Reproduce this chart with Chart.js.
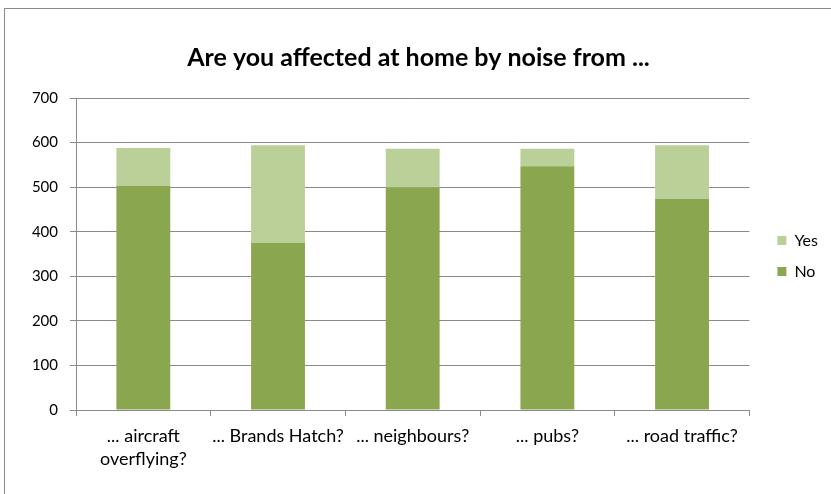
<!DOCTYPE html>
<html>
<head>
<meta charset="utf-8">
<script src="https://cdn.jsdelivr.net/npm/chart.js@4.4.0/dist/chart.umd.min.js"></script>
<style>
  html, body { margin: 0; padding: 0; background: #fff; }
  #frame {
    position: absolute; left: 4px; top: 8px; width: 840px; height: 500px;
    border: 1px solid #8a8a8a; box-sizing: border-box;
  }
  #wrap { position: absolute; left: 0; top: 0; width: 831px; height: 494px; }
</style>
</head>
<body>
<div id="frame"></div>
<div id="wrap"><canvas id="myChart"></canvas></div>
<script>
const categories = [['... aircraft', 'overflying?'], '... Brands Hatch?', '... neighbours?', '... pubs?', '... road traffic?'];
const noValues = [503, 375, 499, 547, 474];
const yesValues = [85, 219, 87, 39, 120];
const yTicks = [0, 100, 200, 300, 400, 500, 600, 700];

const font = 'Lato, "Open Sans", sans-serif';
Chart.defaults.font.family = font;
Chart.defaults.color = '#000';

// nudge the legend and title blocks into place once layout is done
const boxShift = {
  id: 'boxShift',
  afterLayout(chart) {
    const lg = chart.legend;
    if (lg) {
      lg.left += 13; lg.right += 13;
      lg.top += 9; lg.bottom += 9;
    }
    const t = chart.titleBlock;
    if (t) { t.left += 11; t.right += 11; }
  },
};

var ctx = document.getElementById('myChart').getContext('2d');

new Chart(ctx, {
  type: 'bar',
  data: {
    labels: categories,
    datasets: [
      {
        label: 'No',
        data: noValues,
        backgroundColor: '#8aa64f',
        categoryPercentage: 1,
        barPercentage: 0.4,
      },
      {
        label: 'Yes',
        data: yesValues,
        backgroundColor: '#bbcf98',
        categoryPercentage: 1,
        barPercentage: 0.4,
      },
    ],
  },
  options: {
    responsive: true,
    maintainAspectRatio: false,
    animation: false,
    layout: { padding: { left: 0, right: 16, top: 0, bottom: 0 } },
    plugins: {
      title: {
        display: true,
        text: 'Are you affected at home by noise from ...',
        font: { size: 25, weight: 'bold' },
        color: '#000',
        padding: { top: 43, bottom: 25 },
      },
      legend: {
        position: 'right',
        reverse: true,
        labels: {
          boxWidth: 9,
          boxHeight: 9,
          padding: 15,
          font: { size: 16 },
          color: '#000',
        },
      },
      tooltip: { enabled: false },
    },
    scales: {
      x: {
        stacked: true,
        grid: {
          drawOnChartArea: false,
          drawTicks: true,
          tickLength: 6,
          color: '#8a8a8a',
        },
        border: { color: '#8a8a8a' },
        ticks: { font: { size: 18, lineHeight: 1.28 }, padding: 9, maxRotation: 0, autoSkip: false },
        afterFit: (scale) => { scale.height = 84; },
      },
      y: {
        stacked: true,
        min: 0,
        max: 700,
        afterBuildTicks: (scale) => { scale.ticks = yTicks.map((v) => ({ value: v })); },
        grid: { color: '#8a8a8a', tickLength: 6 },
        border: { color: '#8a8a8a' },
        ticks: { font: { size: 15 }, padding: 12 },
        afterFit: (scale) => { scale.width = 76; },
      },
    },
  },
  plugins: [boxShift],
});
</script>
</body>
</html>
